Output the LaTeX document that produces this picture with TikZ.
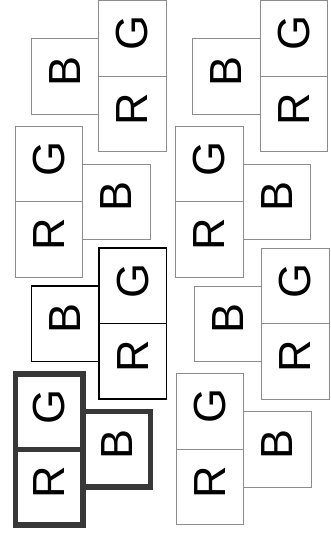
\documentclass[tikz,border=0pt]{standalone}
\usepackage{fontspec}
\setmainfont{Liberation Sans}
\usetikzlibrary{positioning}
\newcommand{\ltr}[1]{\rotatebox{90}{\kern10pt #1}}

\begin{document}
\begin{tikzpicture}[
  x=1pt, y=-1pt,
  cell/.style={draw=black!45, line width=0.9pt, minimum width=67.5pt, minimum height=75.5pt,
    inner sep=0pt, outer sep=0pt, font=\fontsize{45}{45}\selectfont},
  bold/.style={draw=black, line width=1.4pt},
  heavy/.style={draw=black!78, line width=5.5pt}
]
\useasboundingbox[fill=white] (0,0) rectangle (331,535);

% ---- Left column ----
\node[cell, anchor=north west] (lg1) at (98.5,0.5) {\ltr{G}};
\node[cell, below=0pt of lg1] (lr1) {\ltr{R}};
\node[cell, below left=38pt and 0pt of lg1.north west] (lb1) {\ltr{B}};

\node[cell, anchor=north west] (lg2) at (15,126) {\ltr{G}};
\node[cell, below=0pt of lg2] (lr2) {\ltr{R}};
\node[cell, below right=38pt and 0pt of lg2.north east] (lb2) {\ltr{B}};

\node[cell, bold, anchor=north west] (lg3) at (99,248) {\ltr{G}};
\node[cell, bold, below=0pt of lg3] (lr3) {\ltr{R}};
\node[cell, bold, below left=38pt and 0pt of lg3.north west] (lb3) {\ltr{B}};

\node[cell, heavy, anchor=north west] (lg4) at (15.5,374) {\ltr{G}};
\node[cell, heavy, below=0pt of lg4] (lr4) {\ltr{R}};
\node[cell, heavy, below right=37.5pt and 0pt of lg4.north east] (lb4) {\ltr{B}};

% ---- Right column ----
\node[cell, anchor=north west] (rg1) at (260,0.5) {\ltr{G}};
\node[cell, below=0pt of rg1] (rr1) {\ltr{R}};
\node[cell, below left=38pt and 0pt of rg1.north west] (rb1) {\ltr{B}};

\node[cell, anchor=north west] (rg2) at (175.5,126) {\ltr{G}};
\node[cell, below=0pt of rg2] (rr2) {\ltr{R}};
\node[cell, below right=38pt and 0pt of rg2.north east] (rb2) {\ltr{B}};

\node[cell, anchor=north west] (rg3) at (261.5,248) {\ltr{G}};
\node[cell, below=0pt of rg3] (rr3) {\ltr{R}};
\node[cell, below left=38pt and 0pt of rg3.north west] (rb3) {\ltr{B}};

\node[cell, anchor=north west] (rg4) at (176,373.5) {\ltr{G}};
\node[cell, below=0pt of rg4] (rr4) {\ltr{R}};
\node[cell, below right=38pt and 0pt of rg4.north east] (rb4) {\ltr{B}};
\end{tikzpicture}
\end{document}
